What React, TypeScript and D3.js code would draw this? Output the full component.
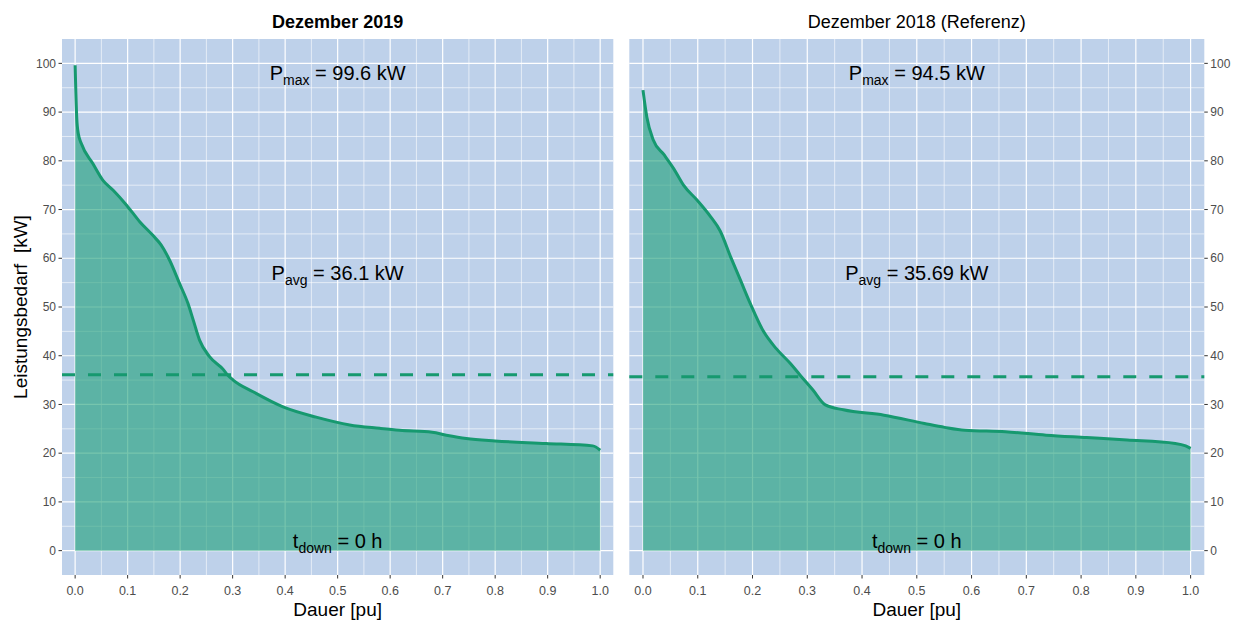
import React from "react";
import * as d3 from "d3";

// ---------- data ----------
const leftX = [0, 0.003, 0.006, 0.012, 0.034, 0.053, 0.072, 0.098, 0.123, 0.148, 0.164, 0.18, 0.199, 0.215, 0.225, 0.237, 0.256, 0.282, 0.29, 0.301, 0.339, 0.396, 0.459, 0.523, 0.58, 0.618, 0.68, 0.707, 0.745, 0.8, 0.897, 0.986, 1.0];
const leftY = [99.6, 89.0, 85.6, 83.5, 79.4, 76.0, 74.0, 70.9, 67.5, 64.7, 62.7, 59.6, 54.8, 50.7, 47.3, 43.2, 39.8, 37.2, 36.1, 35.0, 32.6, 29.5, 27.4, 25.8, 25.1, 24.7, 24.3, 23.7, 23.0, 22.5, 22.0, 21.5, 20.6];

const rightX = [0, 0.007, 0.019, 0.038, 0.056, 0.074, 0.099, 0.123, 0.141, 0.16, 0.178, 0.196, 0.22, 0.243, 0.27, 0.287, 0.31, 0.333, 0.366, 0.44, 0.514, 0.551, 0.588, 0.662, 0.736, 0.81, 0.884, 0.972, 0.991, 1.0];
const rightY = [94.5, 89.0, 84.2, 81.3, 78.4, 75.0, 71.9, 68.6, 65.6, 60.3, 55.5, 50.7, 45.0, 41.5, 38.3, 36.0, 33.0, 29.9, 28.9, 27.8, 26.1, 25.3, 24.7, 24.4, 23.7, 23.2, 22.7, 22.0, 21.5, 21.0];

const panelTitles = ["Dezember 2019", "Dezember 2018 (Referenz)"];
const pMax = ["99.6", "94.5"];
const pAvg = [36.1, 35.69];
const pAvgLabel = ["36.1", "35.69"];
const tDown = ["0", "0"];

const xTicks = [0, 0.1, 0.2, 0.3, 0.4, 0.5, 0.6, 0.7, 0.8, 0.9, 1.0];
const xMinor = [0.05, 0.15, 0.25, 0.35, 0.45, 0.55, 0.65, 0.75, 0.85, 0.95];
const yTicks = [0, 10, 20, 30, 40, 50, 60, 70, 80, 90, 100];
const yMinor = [5, 15, 25, 35, 45, 55, 65, 75, 85, 95];

const xAxisTitle = "Dauer [pu]";
const yAxisTitle = "Leistungsbedarf\u00a0 [kW]";

// ---------- layout ----------
const W = 1235;
const H = 621;
const TOP = 39;
const BOTTOM = 575;
const FONT = "'Liberation Sans', Arial, sans-serif";
const BG = "#bed1ea";
const GREEN = "#16996f";
const TICK_COL = "#4d4d4d";

const y = d3.scaleLinear().domain([-5, 105]).range([BOTTOM, TOP]);

type PanelProps = {
  x0: number;
  x1: number;
  xs: number[];
  ys: number[];
  idx: number;
  bold: boolean;
  axisSide: "left" | "right";
};

function Panel({ x0, x1, xs, ys, idx, bold, axisSide }: PanelProps) {
  const x = d3.scaleLinear().domain([-0.025, 1.025]).range([x0, x1]);
  const pts = xs.map((v, i) => [v, ys[i]] as [number, number]);
  const area = d3
    .area<[number, number]>()
    .x((d) => x(d[0]))
    .y0(y(0))
    .y1((d) => y(d[1]))
    .curve(d3.curveMonotoneX);
  const line = d3
    .line<[number, number]>()
    .x((d) => x(d[0]))
    .y((d) => y(d[1]))
    .curve(d3.curveMonotoneX);
  const cx = x(0.5);
  const mid = (x0 + x1) / 2;

  const ann = (yv: number, main: string, sub: string, rest: string) => (
    <text x={cx} y={y(yv) + 7} textAnchor="middle" fontFamily={FONT} fontSize={20} fill="#000">
      <tspan>{main}</tspan>
      <tspan fontSize={14} dy={5}>{sub}</tspan>
      <tspan dy={-5}>{rest}</tspan>
    </text>
  );

  return (
    <g>
      <rect x={x0} y={TOP} width={x1 - x0} height={BOTTOM - TOP} fill={BG} />
      {xMinor.map((t) => (
        <line key={"xm" + t} x1={x(t)} x2={x(t)} y1={TOP} y2={BOTTOM} stroke="#fff" strokeWidth={0.6} />
      ))}
      {yMinor.map((t) => (
        <line key={"ym" + t} x1={x0} x2={x1} y1={y(t)} y2={y(t)} stroke="#fff" strokeWidth={0.6} />
      ))}
      {xTicks.map((t) => (
        <line key={"xg" + t} x1={x(t)} x2={x(t)} y1={TOP} y2={BOTTOM} stroke="#fff" strokeWidth={1.2} />
      ))}
      {yTicks.map((t) => (
        <line key={"yg" + t} x1={x0} x2={x1} y1={y(t)} y2={y(t)} stroke="#fff" strokeWidth={1.2} />
      ))}
      <path d={area(pts) || ""} fill="#1b9e77" fillOpacity={0.6} />
      <path d={line(pts) || ""} fill="none" stroke={GREEN} strokeWidth={3} strokeLinejoin="round" />
      <line
        x1={x0}
        x2={x1}
        y1={y(pAvg[idx])}
        y2={y(pAvg[idx])}
        stroke={GREEN}
        strokeWidth={3}
        strokeDasharray="13,13"
      />
      {ann(98, "P", "max", ` = ${pMax[idx]} kW`)}
      {ann(57, "P", "avg", ` = ${pAvgLabel[idx]} kW`)}
      {ann(2, "t", "down", ` = ${tDown[idx]} h`)}

      {/* x axis */}
      {xTicks.map((t) => (
        <g key={"xt" + t}>
          <line x1={x(t)} x2={x(t)} y1={BOTTOM} y2={BOTTOM + 3.5} stroke="#333" strokeWidth={1} />
          <text x={x(t)} y={595} textAnchor="middle" fontFamily={FONT} fontSize={12.5} fill={TICK_COL}>
            {t.toFixed(1)}
          </text>
        </g>
      ))}
      <text x={mid} y={616} textAnchor="middle" fontFamily={FONT} fontSize={19} fill="#000">
        {xAxisTitle}
      </text>

      {/* y axis */}
      {yTicks.map((t) =>
        axisSide === "left" ? (
          <g key={"yt" + t}>
            <line x1={x0 - 3.5} x2={x0} y1={y(t)} y2={y(t)} stroke="#333" strokeWidth={1} />
            <text x={x0 - 6} y={y(t) + 4.2} textAnchor="end" fontFamily={FONT} fontSize={12} fill={TICK_COL}>
              {t}
            </text>
          </g>
        ) : (
          <g key={"yt" + t}>
            <line x1={x1} x2={x1 + 3.5} y1={y(t)} y2={y(t)} stroke="#333" strokeWidth={1} />
            <text x={x1 + 6} y={y(t) + 4.2} textAnchor="start" fontFamily={FONT} fontSize={12} fill={TICK_COL}>
              {t}
            </text>
          </g>
        )
      )}

      {/* title */}
      <text
        x={mid}
        y={28}
        textAnchor="middle"
        fontFamily={FONT}
        fontSize={18}
        fontWeight={bold ? "bold" : "normal"}
        fill="#000"
      >
        {panelTitles[idx]}
      </text>
    </g>
  );
}

export default function App() {
  return (
    <svg
      width={W}
      height={H}
      viewBox={`0 0 ${W} ${H}`}
      style={{ position: "absolute", left: 0, top: 0, background: "#fff" }}
    >
      <rect x={0} y={0} width={W} height={H} fill="#fff" />
      <Panel x0={62} x1={613.3} xs={leftX} ys={leftY} idx={0} bold={true} axisSide="left" />
      <Panel x0={629.3} x1={1204.3} xs={rightX} ys={rightY} idx={1} bold={false} axisSide="right" />
      <text
        transform={`translate(27, ${(TOP + BOTTOM) / 2}) rotate(-90)`}
        textAnchor="middle"
        fontFamily={FONT}
        fontSize={19}
        fill="#000"
      >
        {yAxisTitle}
      </text>
    </svg>
  );
}
